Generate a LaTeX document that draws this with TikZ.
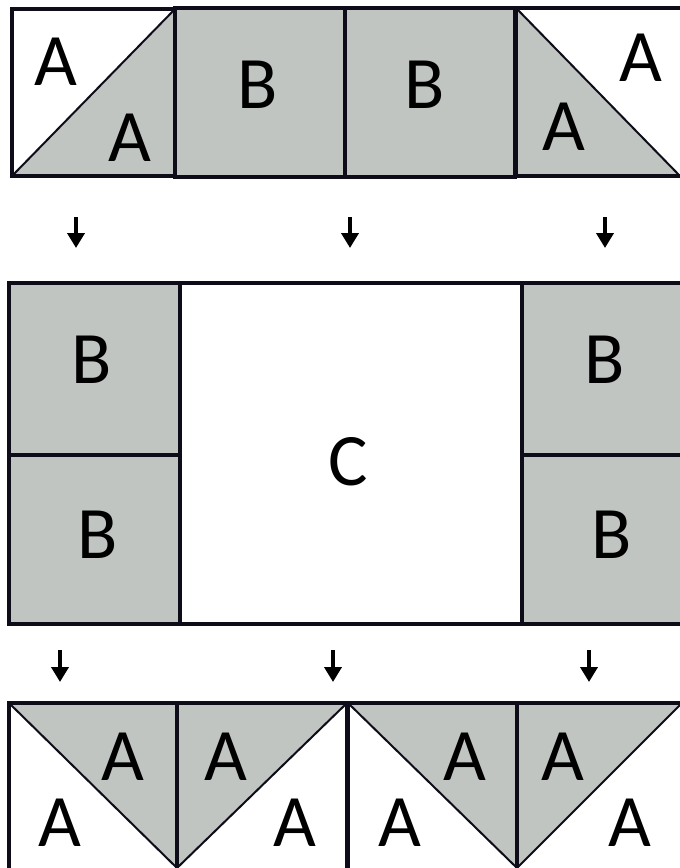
\documentclass[tikz,border=0pt]{standalone}
\usepackage{fontspec}
\setmainfont{Carlito}
\usetikzlibrary{arrows.meta}
\definecolor{patch}{RGB}{193,197,194}
\definecolor{ink}{RGB}{14,12,24}
\tikzset{
  patchbox/.style={draw=ink, line width=3.5pt, line join=miter},
  diag/.style={draw=ink, line width=2pt},
  lab/.style={font=\fontsize{74}{74}\selectfont, inner sep=0pt, text=black},
  flow/.style={line width=4.5pt, -{Triangle[width=17pt,length=15pt]}, black}
}
\begin{document}
\begin{tikzpicture}[x=1pt,y=-1pt]
\useasboundingbox (0,0) rectangle (680,868);
\fill[white] (0,0) rectangle (680,868);
% ---- top row ----
\fill[patch] (12,176) -- (175,9) -- (175,176) -- cycle;
\draw[diag] (12,176) -- (175,9);
\fill[patch] (175,8) rectangle (515,177);
\fill[patch] (516,8) -- (680,176) -- (516,176) -- cycle;
\draw[diag] (516,8) -- (680,176);
\draw[patchbox] (12,9) rectangle (175,176);
\draw[patchbox] (175,8) rectangle (345,177);
\draw[patchbox] (345,8) rectangle (515,177);
\draw[patchbox] (516,8) rectangle (686,176);
\node[lab] (ta1) at (56,62) {A};
\node[lab] (ta2) at (130,138) {A};
\node[lab] (tb1) at (258,85) {B};
\node[lab] (tb2) at (425,85) {B};
\node[lab] (ta3) at (641,58) {A};
\node[lab] (ta4) at (564,127) {A};
% ---- arrows 1 ----
\coordinate (u1) at (76,217); \coordinate (v1) at (76,248);
\coordinate (u2) at (350,217); \coordinate (v2) at (350,248);
\coordinate (u3) at (605,217); \coordinate (v3) at (605,248);
\draw[flow] (u1) -- (v1);
\draw[flow] (u2) -- (v2);
\draw[flow] (u3) -- (v3);
% ---- middle row ----
\fill[patch] (9,283) rectangle (180,624);
\fill[patch] (522,283) rectangle (686,624);
\draw[patchbox] (9,283) rectangle (180,455);
\draw[patchbox] (9,455) rectangle (180,624);
\draw[patchbox] (180,283) rectangle (522,624);
\draw[patchbox] (522,283) rectangle (686,455);
\draw[patchbox] (522,455) rectangle (686,624);
\node[lab] (mb1) at (92,360) {B};
\node[lab] (mb2) at (98,535) {B};
\node[lab] (mc) at (348,462) {C};
\node[lab] (mb3) at (605,360) {B};
\node[lab] (mb4) at (612,535) {B};
% ---- arrows 2 ----
\coordinate (p1) at (60,650); \coordinate (q1) at (60,682);
\coordinate (p2) at (333,650); \coordinate (q2) at (333,682);
\coordinate (p3) at (589,650); \coordinate (q3) at (589,682);
\draw[flow] (p1) -- (q1);
\draw[flow] (p2) -- (q2);
\draw[flow] (p3) -- (q3);
% ---- bottom row ----
\fill[patch] (9,703) -- (177,703) -- (177,868) -- cycle;
\fill[patch] (177,703) -- (347,703) -- (177,868) -- cycle;
\fill[patch] (348,703) -- (517,703) -- (517,868) -- cycle;
\fill[patch] (517,703) -- (682,703) -- (517,868) -- cycle;
\draw[diag] (9,703) -- (177,868);
\draw[diag] (177,868) -- (347,703);
\draw[diag] (348,703) -- (517,868);
\draw[diag] (517,868) -- (682,703);
\draw[patchbox] (9,703) rectangle (177,875);
\draw[patchbox] (177,703) rectangle (347,875);
\draw[patchbox] (348,703) rectangle (517,875);
\draw[patchbox] (517,703) rectangle (686,875);
\node[lab] (ba1) at (123,757) {A};
\node[lab] (ba2) at (60,823) {A};
\node[lab] (ba3) at (226,757) {A};
\node[lab] (ba4) at (295,823) {A};
\node[lab] (ba5) at (465,757) {A};
\node[lab] (ba6) at (400,823) {A};
\node[lab] (ba7) at (563,757) {A};
\node[lab] (ba8) at (630,823) {A};
\end{tikzpicture}
\end{document}
